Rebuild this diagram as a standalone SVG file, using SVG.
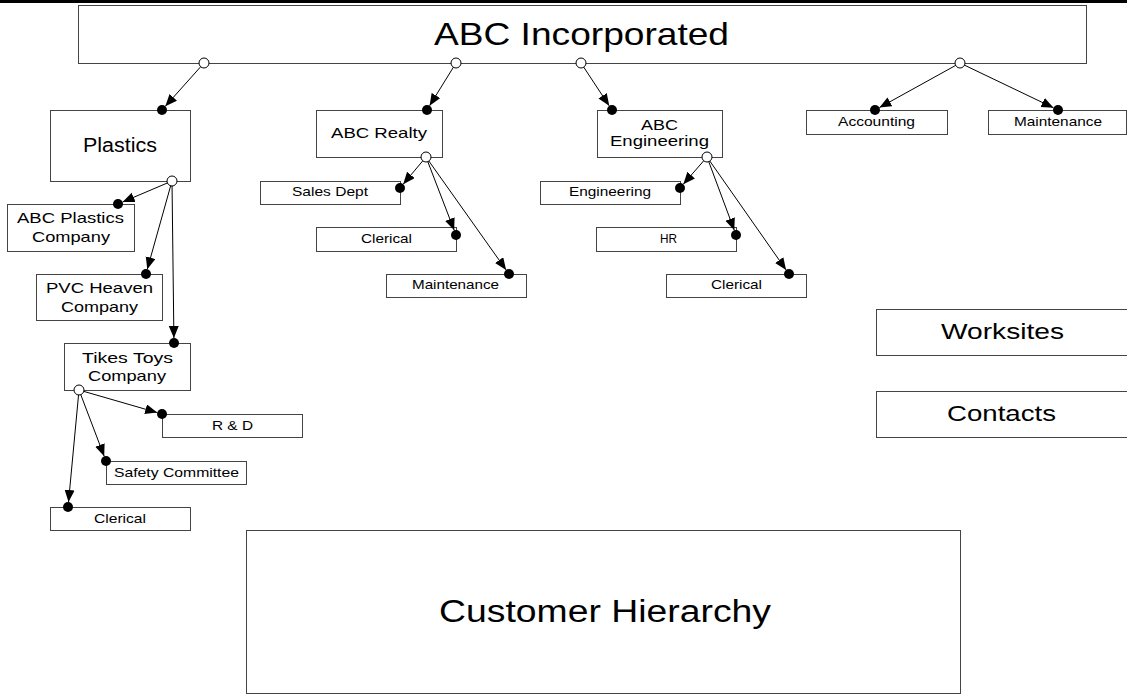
<svg xmlns="http://www.w3.org/2000/svg" width="1127" height="698" viewBox="0 0 1127 698">
<style>
.box{fill:#fff;stroke:#444;stroke-width:1}
text{font-family:"Liberation Sans",Arial,sans-serif;fill:#000}
.conn line{stroke:#000;stroke-width:1;marker-end:url(#arr)}
.src{fill:#fff;stroke:#000;stroke-width:1}
.dst{fill:#000}
</style>
<defs>
<marker id="arr" markerUnits="userSpaceOnUse" markerWidth="13" markerHeight="11" refX="12" refY="5" orient="auto">
<path d="M0,0 L12,5 L0,10 z" fill="#000"/>
</marker>
</defs>
<rect width="1127" height="698" fill="#fff"/>
<line x1="0" y1="1.5" x2="1127" y2="1.5" stroke="#000" stroke-width="3"/>

<g id="abc-incorporated"><rect class="box" x="78.5" y="5.5" width="1008" height="58"/><text x="434" y="45" font-size="32" textLength="295" lengthAdjust="spacingAndGlyphs">ABC Incorporated</text></g>
<g id="plastics"><rect class="box" x="50.5" y="110.5" width="140" height="71"/><text x="83" y="152" font-size="20" textLength="74" lengthAdjust="spacingAndGlyphs">Plastics</text></g>
<g id="abc-realty"><rect class="box" x="316.5" y="110.5" width="126" height="47"/><text x="331" y="138" font-size="15" textLength="96" lengthAdjust="spacingAndGlyphs">ABC Realty</text></g>
<g id="abc-engineering"><rect class="box" x="597.5" y="110.5" width="125" height="47"/><text x="641" y="130" font-size="15" textLength="37" lengthAdjust="spacingAndGlyphs">ABC</text><text x="610" y="146" font-size="15" textLength="99" lengthAdjust="spacingAndGlyphs">Engineering</text></g>
<g id="accounting"><rect class="box" x="806.5" y="110.5" width="141" height="24"/><text x="838" y="126" font-size="13" textLength="77" lengthAdjust="spacingAndGlyphs">Accounting</text></g>
<g id="maintenance-top"><rect class="box" x="988.5" y="110.5" width="138" height="24"/><text x="1014" y="126" font-size="13" textLength="88" lengthAdjust="spacingAndGlyphs">Maintenance</text></g>
<g id="abc-plastics-company"><rect class="box" x="7.5" y="204.5" width="127" height="47"/><text x="17" y="223" font-size="15" textLength="107" lengthAdjust="spacingAndGlyphs">ABC Plastics</text><text x="32" y="242" font-size="15" textLength="78" lengthAdjust="spacingAndGlyphs">Company</text></g>
<g id="pvc-heaven-company"><rect class="box" x="36.5" y="274.5" width="126" height="46"/><text x="46" y="293" font-size="15" textLength="107" lengthAdjust="spacingAndGlyphs">PVC Heaven</text><text x="61" y="312" font-size="15" textLength="77" lengthAdjust="spacingAndGlyphs">Company</text></g>
<g id="tikes-toys-company"><rect class="box" x="64.5" y="343.5" width="126" height="47"/><text x="82" y="363" font-size="15" textLength="91" lengthAdjust="spacingAndGlyphs">Tikes Toys</text><text x="88" y="381" font-size="15" textLength="78" lengthAdjust="spacingAndGlyphs">Company</text></g>
<g id="rd"><rect class="box" x="162.5" y="414.5" width="140" height="23"/><text x="212" y="430" font-size="13" textLength="41" lengthAdjust="spacingAndGlyphs">R &amp; D</text></g>
<g id="safety-committee"><rect class="box" x="106.5" y="461.5" width="140" height="23"/><text x="114" y="477" font-size="13" textLength="125" lengthAdjust="spacingAndGlyphs">Safety Committee</text></g>
<g id="clerical-tikes"><rect class="box" x="50.5" y="507.5" width="140" height="23"/><text x="94" y="523" font-size="13" textLength="52" lengthAdjust="spacingAndGlyphs">Clerical</text></g>
<g id="sales-dept"><rect class="box" x="260.5" y="181.5" width="140" height="23"/><text x="292" y="196" font-size="13" textLength="76" lengthAdjust="spacingAndGlyphs">Sales Dept</text></g>
<g id="clerical-realty"><rect class="box" x="316.5" y="227.5" width="140" height="24"/><text x="361" y="243" font-size="13" textLength="51" lengthAdjust="spacingAndGlyphs">Clerical</text></g>
<g id="maintenance-realty"><rect class="box" x="386.5" y="274.5" width="140" height="23"/><text x="412" y="289" font-size="13" textLength="87" lengthAdjust="spacingAndGlyphs">Maintenance</text></g>
<g id="engineering-dept"><rect class="box" x="540.5" y="181.5" width="140" height="23"/><text x="569" y="196" font-size="13" textLength="82" lengthAdjust="spacingAndGlyphs">Engineering</text></g>
<g id="hr"><rect class="box" x="596.5" y="227.5" width="140" height="24"/><text x="660" y="243" font-size="13" textLength="17" lengthAdjust="spacingAndGlyphs">HR</text></g>
<g id="clerical-eng"><rect class="box" x="666.5" y="274.5" width="140" height="23"/><text x="711" y="289" font-size="13" textLength="51" lengthAdjust="spacingAndGlyphs">Clerical</text></g>
<g id="worksites"><rect class="box" x="876.5" y="309.5" width="251" height="46"/><text x="941" y="339" font-size="22" textLength="123" lengthAdjust="spacingAndGlyphs">Worksites</text></g>
<g id="contacts"><rect class="box" x="876.5" y="391.5" width="251" height="46"/><text x="947" y="421" font-size="22" textLength="109" lengthAdjust="spacingAndGlyphs">Contacts</text></g>
<g id="customer-hierarchy"><rect class="box" x="246.5" y="530.5" width="714" height="163"/><text x="439" y="622" font-size="31" textLength="332" lengthAdjust="spacingAndGlyphs">Customer Hierarchy</text></g>

<g id="connectors" class="conn">
<line x1="204" y1="63" x2="165.3" y2="106.3"/>
<line x1="456" y1="63" x2="429.6" y2="105.7"/>
<line x1="581" y1="63" x2="609.2" y2="105.8"/>
<line x1="960" y1="63" x2="879.4" y2="107.6"/>
<line x1="960" y1="63" x2="1053.5" y2="107.8"/>
<line x1="172" y1="181" x2="122.6" y2="202"/>
<line x1="172" y1="181" x2="147.3" y2="269.2"/>
<line x1="172" y1="181" x2="173.9" y2="338"/>
<line x1="426" y1="157" x2="403.2" y2="184.2"/>
<line x1="426" y1="157" x2="454.2" y2="230.3"/>
<line x1="426" y1="157" x2="506.1" y2="269.9"/>
<line x1="707" y1="157" x2="683.3" y2="184.2"/>
<line x1="707" y1="157" x2="734.3" y2="230.3"/>
<line x1="707" y1="157" x2="786.1" y2="269.9"/>
<line x1="79" y1="390" x2="157.2" y2="412.6"/>
<line x1="79" y1="390" x2="104.2" y2="456.3"/>
<line x1="79" y1="390" x2="68.5" y2="502"/>
<g class="src-ends">
<circle class="src" cx="204" cy="63" r="5"/>
<circle class="src" cx="456" cy="63" r="5"/>
<circle class="src" cx="581" cy="63" r="5"/>
<circle class="src" cx="960" cy="63" r="5"/>
<circle class="src" cx="172" cy="181" r="5"/>
<circle class="src" cx="426" cy="157" r="5"/>
<circle class="src" cx="707" cy="157" r="5"/>
<circle class="src" cx="79" cy="390" r="5"/>
</g>
<g class="dst-ends">
<circle class="dst" cx="162" cy="110" r="5"/>
<circle class="dst" cx="427" cy="110" r="5"/>
<circle class="dst" cx="612" cy="110" r="5"/>
<circle class="dst" cx="875" cy="110" r="5"/>
<circle class="dst" cx="1058" cy="110" r="5"/>
<circle class="dst" cx="118" cy="204" r="5"/>
<circle class="dst" cx="146" cy="274" r="5"/>
<circle class="dst" cx="174" cy="343" r="5"/>
<circle class="dst" cx="400" cy="188" r="5"/>
<circle class="dst" cx="456" cy="235" r="5"/>
<circle class="dst" cx="509" cy="274" r="5"/>
<circle class="dst" cx="680" cy="188" r="5"/>
<circle class="dst" cx="736" cy="235" r="5"/>
<circle class="dst" cx="789" cy="274" r="5"/>
<circle class="dst" cx="162" cy="414" r="5"/>
<circle class="dst" cx="106" cy="461" r="5"/>
<circle class="dst" cx="68" cy="507" r="5"/>
</g>
</g>
</svg>
